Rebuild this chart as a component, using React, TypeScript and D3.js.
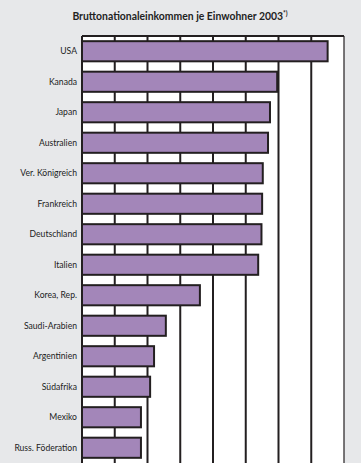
import React from "react";
import * as d3 from "d3";

const countries = ["USA","Kanada","Japan","Australien","Ver. Königreich","Frankreich","Deutschland","Italien","Korea, Rep.","Saudi-Arabien","Argentinien","Südafrika","Mexiko","Russ. Föderation"];
const values = [37500,29800,28700,28400,27600,27500,27400,26900,18000,12800,11000,10400,9000,9000];
const ticks = [0,5000,10000,15000,20000,25000,30000,35000,40000];

const W = 361, H = 463;
const left = 82, right = 344, top = 36, bottom = 463;

export default function App() {
  const x = d3.scaleLinear().domain([0, 40000]).range([left, right]);
  const y = d3.scaleBand<string>().domain(countries).range([top, bottom]).paddingInner(0.34).paddingOuter(0.17);
  const dark = "#231f20";
  return (
    <div style={{ position: "fixed", left: 0, top: 0 }}>
      <svg width={W} height={H} style={{ display: "block" }} fontFamily="Lato, 'Noto Sans', sans-serif">
        <rect x={0} y={0} width={W} height={H} fill="#e7e8ea" />
        <rect x={left} y={top} width={right - left} height={bottom - top} fill="#ffffff" />
        {ticks.slice(1, -1).map((t) => (
          <line key={t} x1={x(t)} x2={x(t)} y1={top} y2={bottom} stroke={dark} strokeWidth={2} />
        ))}
        <line x1={right} x2={right} y1={top} y2={bottom} stroke={dark} strokeWidth={1.2} />
        <line x1={left} x2={right} y1={top} y2={top} stroke={dark} strokeWidth={2} />
        {countries.map((c, i) => (
          <rect key={c} x={x(0)} y={y(c)!} width={x(values[i]) - x(0)} height={y.bandwidth()} fill="#a386b9" stroke={dark} strokeWidth={2} />
        ))}
        <line x1={left} x2={left} y1={top} y2={bottom} stroke={dark} strokeWidth={2} />
        {countries.map((c) => (
          <text key={c} x={left - 5} y={y(c)! + y.bandwidth() / 2} dy="0.35em" textAnchor="end" fontSize={8.6} fill="#222">{c}</text>
        ))}
        <text x={180} y={20} textAnchor="middle" fontSize={10.4} fontWeight="bold" fill="#222">
          Bruttonationaleinkommen je Einwohner 2003<tspan fontSize={6.5} dy={-4}>*)</tspan>
        </text>
      </svg>
    </div>
  );
}
